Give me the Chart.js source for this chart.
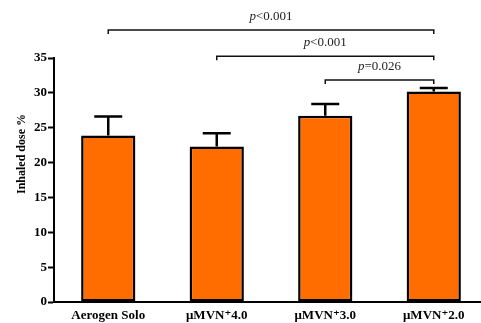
<!DOCTYPE html>
<html>
<head>
<meta charset="utf-8">
<script src="https://cdn.jsdelivr.net/npm/chart.js@4"></script>
<style>
  html, body { margin: 0; padding: 0; background: #fff; overflow: hidden; }
  #wrap { width: 481px; height: 323px; overflow: hidden; }
</style>
</head>
<body>
<div id="wrap"><canvas id="chart" width="488" height="323"></canvas></div>
<script>
const labels = ["Aerogen Solo", "\u03bcMVN\u207a4.0", "\u03bcMVN\u207a3.0", "\u03bcMVN\u207a2.0"];
const means = [23.9, 22.3, 26.7, 30.2];
const errTop = [26.6, 24.2, 28.4, 30.7];
const yTicks = [0, 5, 10, 15, 20, 25, 30, 35];

// significance brackets: from index, to index, bracket level, label
const bracketFrom = [0, 1, 2];
const bracketTo = [3, 3, 3];
const bracketLevel = [39.0, 35.25, 31.85];
const bracketText = ["<0.001", "<0.001", "=0.026"];

const serif = "'Liberation Serif', 'DejaVu Serif', serif";

const extras = {
    id: "extras",
    afterDatasetsDraw(chart) {
        const ctx = chart.ctx;
        const x = chart.scales.x, y = chart.scales.y;
        ctx.save();
        // error bars (upper only)
        ctx.strokeStyle = "#000";
        ctx.lineWidth = 2.5;
        means.forEach((m, i) => {
            const cx = x.getPixelForValue(i);
            const y0 = y.getPixelForValue(m);
            const y1 = y.getPixelForValue(errTop[i]);
            ctx.beginPath();
            ctx.moveTo(cx, y0);
            ctx.lineTo(cx, y1);
            ctx.moveTo(cx - 14, y1);
            ctx.lineTo(cx + 14, y1);
            ctx.stroke();
        });
        // brackets
        ctx.lineWidth = 1.5;
        ctx.strokeStyle = "#111";
        bracketFrom.forEach((f, k) => {
            const xa = x.getPixelForValue(f);
            const xb = x.getPixelForValue(bracketTo[k]);
            const yl = y.getPixelForValue(bracketLevel[k]);
            ctx.beginPath();
            ctx.moveTo(xa, yl + 4);
            ctx.lineTo(xa, yl);
            ctx.lineTo(xb, yl);
            ctx.lineTo(xb, yl + 4);
            ctx.stroke();
            // label: italic p + rest
            const pFont = "italic 13px " + serif;
            const rFont = "13px " + serif;
            ctx.font = pFont;
            const wp = ctx.measureText("p").width;
            ctx.font = rFont;
            const wr = ctx.measureText(bracketText[k]).width;
            const startX = (xa + xb) / 2 - (wp + wr) / 2;
            const ty = yl - 13.5;
            ctx.fillStyle = "#222";
            ctx.textBaseline = "middle";
            ctx.textAlign = "left";
            ctx.font = pFont;
            ctx.fillText("p", startX, ty);
            ctx.font = rFont;
            ctx.fillText(bracketText[k], startX + wp, ty);
        });
        // y axis title
        ctx.translate(22, 154);
        ctx.rotate(-Math.PI / 2);
        ctx.font = "bold 12px " + serif;
        ctx.fillStyle = "#000";
        ctx.textAlign = "center";
        ctx.textBaseline = "middle";
        ctx.fillText("Inhaled dose %", 0, 0);
        ctx.restore();
    }
};

new Chart(document.getElementById("chart"), {
    type: "bar",
    data: {
        labels: labels,
        datasets: [{
            data: means,
            backgroundColor: "#ff6d00",
            borderColor: "#000",
            borderWidth: 2.5,
            borderSkipped: false,
            barPercentage: 0.5,
            categoryPercentage: 1.0
        }]
    },
    options: {
        responsive: false,
        animation: false,
        layout: { padding: { top: 58, right: 0, left: 0, bottom: 0 } },
        plugins: { legend: { display: false }, tooltip: { enabled: false } },
        scales: {
            x: {
                offset: true,
                afterFit: s => { s.height = 21; },
                grid: { display: false, drawTicks: false },
                border: { display: true, color: "#000", width: 2 },
                ticks: { color: "#000", padding: 6, font: { family: serif, size: 13, weight: "bold" } }
            },
            y: {
                min: 0,
                max: 35,
                afterFit: s => { s.width = 54; },
                afterBuildTicks: s => { s.ticks = yTicks.map(v => ({ value: v })); },
                grid: { drawOnChartArea: false, tickLength: 6, color: "#000", tickWidth: 2 },
                border: { display: true, color: "#000", width: 2 },
                ticks: { color: "#000", padding: 1, font: { family: serif, size: 13, weight: "bold" } }
            }
        }
    },
    plugins: [extras]
});
</script>
</body>
</html>
